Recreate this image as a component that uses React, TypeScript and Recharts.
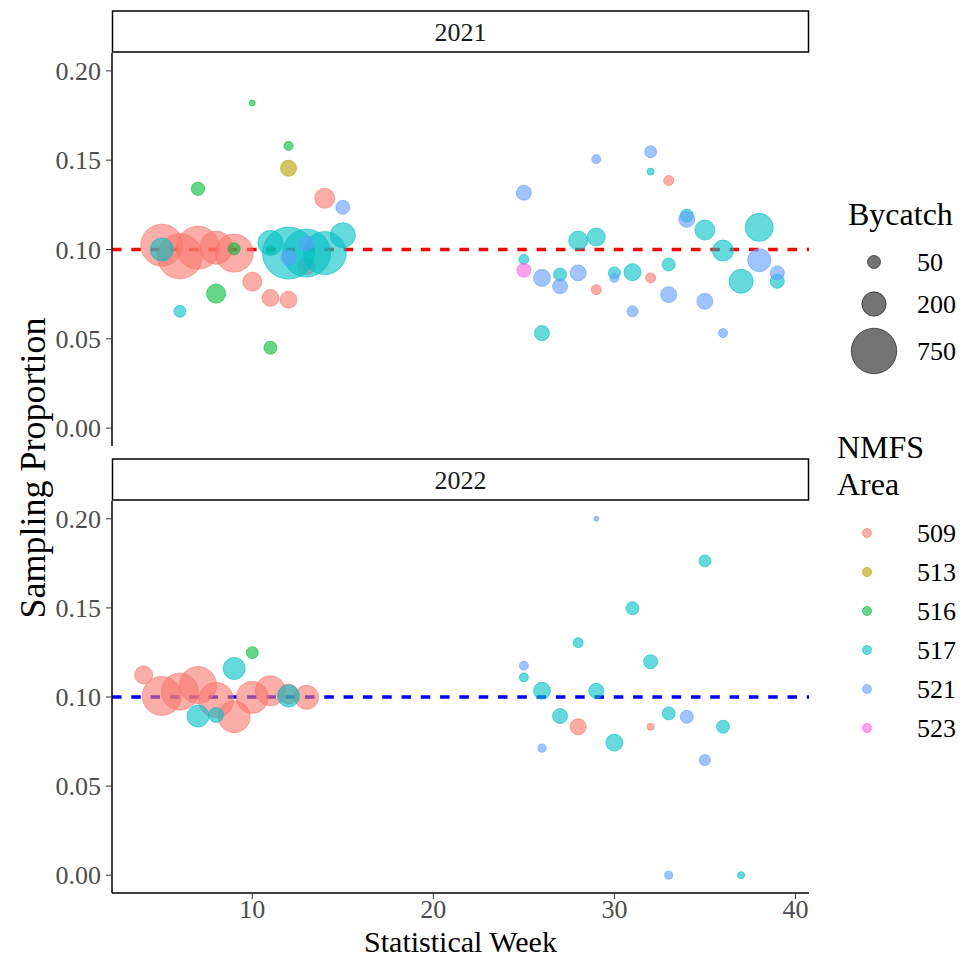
import {
  ReferenceLine,
  Scatter,
  ScatterChart,
  XAxis,
  YAxis,
  ZAxis,
} from "recharts";

// 2021 panel
const weeks2021 = [
  5, 6, 7, 8, 9, 10, 11, 12, 13, 14, 33, 29, 32,
  12,
  10, 12, 7, 9, 8, 11, 11,
  15, 5, 6, 11, 12, 13, 14, 32, 34, 35, 38, 28, 29, 36, 25, 27, 30, 31, 33, 37, 39, 26,
  15, 13, 12, 25, 29, 32, 34, 38, 26, 27, 28, 30, 33, 35, 39, 31, 36,
  25,
];
const prop2021 = [
  0.1024, 0.0962, 0.101, 0.101, 0.098, 0.082, 0.0729, 0.0719, 0.0906, 0.1287, 0.1386, 0.0775, 0.0841,
  0.1455,
  0.182, 0.158, 0.134, 0.1004, 0.0753, 0.1, 0.045,
  0.108, 0.1, 0.0654, 0.1037, 0.098, 0.098, 0.098, 0.1436, 0.119, 0.1109, 0.1124, 0.105, 0.107, 0.0994, 0.0944, 0.086, 0.0869, 0.0873, 0.0916, 0.0822, 0.0822, 0.0532,
  0.1236, 0.1034, 0.0955, 0.1318, 0.1506, 0.1547, 0.1169, 0.094, 0.0841, 0.0794, 0.0869, 0.0841, 0.0747, 0.071, 0.0869, 0.0654, 0.0532,
  0.0884,
];
const bycatch2021 = [
  635, 732, 666, 383, 515, 117, 91, 91, 91, 131, 27, 27, 27,
  80,
  7, 21, 53, 41, 117, 16, 50,
  212, 177, 41, 212, 988, 837, 666, 11, 50, 131, 270, 117, 104, 146, 27, 50, 41, 91, 50, 194, 59, 69,
  59, 69, 69, 69, 21, 41, 80, 177, 91, 69, 80, 21, 80, 80, 59, 34, 21,
  59,
];
const area2021 = [
  "509", "509", "509", "509", "509", "509", "509", "509", "509", "509", "509", "509", "509",
  "513",
  "516", "516", "516", "516", "516", "516", "516",
  "517", "517", "517", "517", "517", "517", "517", "517", "517", "517", "517", "517", "517", "517", "517", "517", "517", "517", "517", "517", "517", "517",
  "521", "521", "521", "521", "521", "521", "521", "521", "521", "521", "521", "521", "521", "521", "521", "521", "521",
  "523",
];

// 2022 panel
const weeks2022 = [
  4, 5, 6, 7, 8, 9, 10, 11, 12, 13, 28, 32,
  10,
  7, 8, 9, 12, 35, 31, 28, 32, 25, 26, 29, 27, 30, 33, 36, 37,
  29, 25, 34, 26, 35, 33,
];
const prop2022 = [
  0.1124, 0.1006, 0.103, 0.1067, 0.0983, 0.0889, 0.0998, 0.1035, 0.1017, 0.0998, 0.0833, 0.0833,
  0.1249,
  0.0893, 0.0899, 0.116, 0.1006, 0.1764, 0.1498, 0.1305, 0.1198, 0.111, 0.1035, 0.1035, 0.0893, 0.0744, 0.0908, 0.0833, 0,
  0.2, 0.1176, 0.0889, 0.0713, 0.0646, 0,
];
const bycatch2022 = [
  104, 543, 487, 487, 433, 359, 359, 313, 131, 194, 80, 11,
  41,
  161, 69, 161, 161, 41, 50, 27, 59, 21, 91, 69, 69, 91, 50, 50, 11,
  4, 21, 50, 16, 34, 16,
];
const area2022 = [
  "509", "509", "509", "509", "509", "509", "509", "509", "509", "509", "509", "509",
  "516",
  "517", "517", "517", "517", "517", "517", "517", "517", "517", "517", "517", "517", "517", "517", "517", "517",
  "521", "521", "521", "521", "521", "521",
];

const areaLabels = ["509", "513", "516", "517", "521", "523"];
const areaColors = ["#F8766D", "#B79F00", "#00BA38", "#00BFC4", "#619CFF", "#F564E3"];
const sizeBreaks = [50, 200, 750];
const yTicks = [0, 0.05, 0.1, 0.15, 0.2];
const xTicks = [10, 20, 30, 40];

const sizeDomain: [number, number] = [0, 1000];
const sizeRange: [number, number] = [1.7, 52.3];
const serif = "Liberation Serif";

type Row = { week: number; prop: number; bycatch: number; area: string };

function buildRows(weeks: number[], props: number[], bycatch: number[], areas: string[]): Row[] {
  return weeks.map((week, i) => ({ week, prop: props[i], bycatch: bycatch[i], area: areas[i] }));
}

const rows2021 = buildRows(weeks2021, prop2021, bycatch2021, area2021);
const rows2022 = buildRows(weeks2022, prop2022, bycatch2022, area2022);

function colorFor(area: string): string {
  return areaColors[areaLabels.indexOf(area)] ?? "#999";
}

// same sqrt mapping the ZAxis uses, for the legend keys
function legendDiameter(value: number): number {
  const t = Math.sqrt(value / sizeDomain[1]);
  return sizeRange[0] + t * (sizeRange[1] - sizeRange[0]);
}

function Dot(props: any) {
  const { cx, cy, size, payload } = props;
  if (cx == null || cy == null) return null;
  const color = colorFor(payload.area);
  return (
    <circle
      cx={cx}
      cy={cy}
      r={Math.max(size, 1) / 2}
      fill={color}
      fillOpacity={0.6}
      stroke={color}
      strokeOpacity={0.6}
      strokeWidth={1}
    />
  );
}

const tickStyle = { fill: "#4D4D4D", fontSize: 26, fontFamily: serif };

function Panel({
  rows,
  lineColor,
  showX,
  height,
  margin,
}: {
  rows: Row[];
  lineColor: string;
  showX: boolean;
  height: number;
  margin: { top: number; right: number; bottom: number; left: number };
}) {
  return (
    <ScatterChart width={830} height={height} margin={margin}>
      <XAxis
        type="number"
        dataKey="week"
        domain={[2.25, 40.75]}
        ticks={xTicks}
        allowDataOverflow
        hide={!showX}
        height={40}
        axisLine={{ stroke: "#000", strokeWidth: 1.5 }}
        tickLine={{ stroke: "#333" }}
        tickSize={6}
        tickMargin={1}
        tick={tickStyle}
      />
      <YAxis
        type="number"
        dataKey="prop"
        domain={[-0.01, 0.21]}
        ticks={yTicks}
        allowDataOverflow
        width={112}
        axisLine={{ stroke: "#000", strokeWidth: 1.5 }}
        tickLine={{ stroke: "#333" }}
        tickSize={6}
        tickMargin={5}
        tick={tickStyle}
        tickFormatter={(v: number) => v.toFixed(2)}
      />
      <ZAxis
        type="number"
        dataKey="bycatch"
        domain={sizeDomain}
        range={sizeRange}
        scale="sqrt"
      />
      <ReferenceLine
        y={0.1}
        stroke={lineColor}
        strokeWidth={3.5}
        strokeDasharray="9.5 9.8"
      />
      <Scatter data={rows} shape={Dot} isAnimationActive={false} />
    </ScatterChart>
  );
}

function Strip({ y, label }: { y: number; label: string }) {
  return (
    <g>
      <rect x={112.5} y={y} width={696} height={41} fill="#fff" stroke="#000" strokeWidth={1.5} />
      <text
        x={460.5}
        y={y + 21}
        textAnchor="middle"
        dominantBaseline="central"
        fontSize={26}
        fill="#1A1A1A"
      >
        {label}
      </text>
    </g>
  );
}

export default function App() {
  const areaRows = [533, 572, 611, 650, 689, 728];
  const sizeRows = [262, 304, 351];

  return (
    <div
      style={{
        position: "absolute",
        left: 0,
        top: 0,
        width: 963,
        height: 961,
        background: "#fff",
        fontFamily: serif,
        overflow: "hidden",
      }}
    >
      <div style={{ position: "absolute", left: 0, top: 0 }}>
        <Panel
          rows={rows2021}
          lineColor="#FF0000"
          showX={false}
          height={460}
          margin={{ top: 53, right: 21, bottom: 14, left: 0 }}
        />
      </div>
      <div style={{ position: "absolute", left: 0, top: 460 }}>
        <Panel
          rows={rows2022}
          lineColor="#0000FF"
          showX
          height={480}
          margin={{ top: 41, right: 21, bottom: 7, left: 0 }}
        />
      </div>

      <svg
        width={963}
        height={961}
        style={{ position: "absolute", left: 0, top: 0, pointerEvents: "none" }}
        fontFamily={serif}
      >
        <Strip y={11} label="2021" />
        <Strip y={459} label="2022" />

        <text
          x={33}
          y={468}
          transform="rotate(-90, 33, 468)"
          textAnchor="middle"
          dominantBaseline="central"
          fontSize={36}
          fill="#000"
        >
          Sampling Proportion
        </text>
        <text x={460.5} y={941} textAnchor="middle" dominantBaseline="central" fontSize={30} fill="#000">
          Statistical Week
        </text>

        <text x={848} y={214} dominantBaseline="central" fontSize={32} fill="#000">
          Bycatch
        </text>
        {sizeBreaks.map((b, i) => (
          <g key={b}>
            <circle
              cx={874}
              cy={sizeRows[i]}
              r={legendDiameter(b) / 2}
              fill="#000"
              fillOpacity={0.55}
              stroke="#000"
              strokeOpacity={0.55}
              strokeWidth={1}
            />
            <text x={917} y={sizeRows[i]} dominantBaseline="central" fontSize={26} fill="#000">
              {b}
            </text>
          </g>
        ))}

        <text x={837} y={447} dominantBaseline="central" fontSize={32} fill="#000">
          NMFS
        </text>
        <text x={837} y={484} dominantBaseline="central" fontSize={32} fill="#000">
          Area
        </text>
        {areaLabels.map((a, i) => (
          <g key={a}>
            <circle
              cx={867}
              cy={areaRows[i]}
              r={4.5}
              fill={areaColors[i]}
              fillOpacity={0.6}
              stroke={areaColors[i]}
              strokeOpacity={0.6}
            />
            <text x={917} y={areaRows[i]} dominantBaseline="central" fontSize={26} fill="#000">
              {a}
            </text>
          </g>
        ))}
      </svg>
    </div>
  );
}
